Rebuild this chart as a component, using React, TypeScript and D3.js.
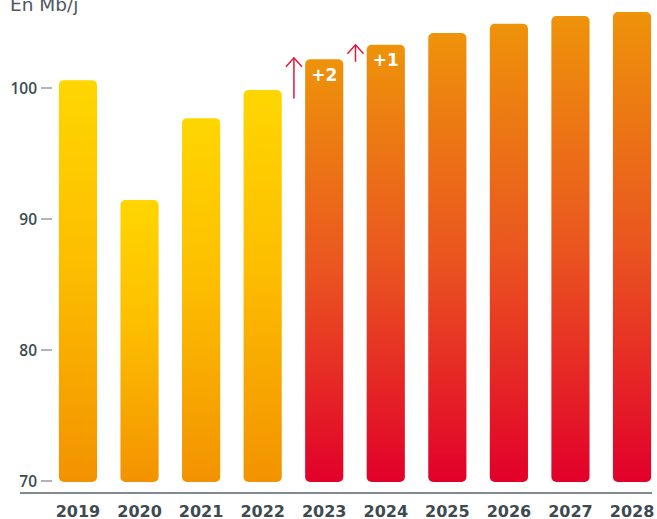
import React from "react";
import * as d3 from "d3";

const years = ["2019", "2020", "2021", "2022", "2023", "2024", "2025", "2026", "2027", "2028"];
const values = [100.6, 91.45, 97.7, 99.85, 102.2, 103.3, 104.2, 104.9, 105.5, 105.8];
const forecast = [false, false, false, false, true, true, true, true, true, true];
const yTicks = [70, 80, 90, 100];
const unitLabel = "En Mb/j";
const deltaYears = ["2023", "2024"];
const deltaLabels = ["+2", "+1"];
const arrowFrom = [99.2, 102.0];
const arrowTo = [102.3, 103.3];

const W = 657;
const H = 519;

export default function App() {
  const x = d3
    .scaleBand<string>()
    .domain(years)
    .range([47.2, 662.8])
    .paddingInner(0.38)
    .paddingOuter(0.19);
  const y = d3.scaleLinear().domain([70, 100]).range([481, 88]);
  const bw = x.bandwidth();
  const textColor = "#3d4b50";
  const font = "'DejaVu Sans', sans-serif";

  return (
    <svg
      width={W}
      height={H}
      style={{ position: "absolute", left: 0, top: 0, display: "block" }}
      fontFamily={font}
    >
      <defs>
        <linearGradient id="gHist" x1="0" y1="0" x2="0" y2="1">
          <stop offset="0%" stopColor="#FFD600" />
          <stop offset="45%" stopColor="#FDBE00" />
          <stop offset="100%" stopColor="#F39200" />
        </linearGradient>
        <linearGradient id="gFc" x1="0" y1="0" x2="0" y2="1">
          <stop offset="0%" stopColor="#EE930A" />
          <stop offset="50%" stopColor="#EA5520" />
          <stop offset="100%" stopColor="#E2002A" />
        </linearGradient>
      </defs>

      <text x={10} y={11} fontSize={18.5} fill="#4d585c">
        {unitLabel}
      </text>

      {yTicks.map((t) => (
        <g key={t}>
          <text
            x={37}
            y={y(t)}
            dy="0.36em"
            textAnchor="end"
            fontSize={15.5}
            fontWeight={600}
            fontFamily="'Open Sans', sans-serif"
            fill={textColor}
          >
            {t}
          </text>
          <line x1={41} x2={52} y1={y(t)} y2={y(t)} stroke="#7d878a" strokeWidth={1.2} />
        </g>
      ))}

      {years.map((yr, i) => {
        const x0 = x(yr)!;
        const top = y(values[i]);
        const bottom = y(70) + 1;
        return (
          <rect
            key={yr}
            x={x0}
            y={top}
            width={bw}
            height={bottom - top}
            rx={5}
            ry={5}
            fill={forecast[i] ? "url(#gFc)" : "url(#gHist)"}
          />
        );
      })}

      <line x1={20} x2={652} y1={493} y2={493} stroke="#56636a" strokeWidth={1.3} />

      {years.map((yr) => (
        <text
          key={yr}
          x={x(yr)! + bw / 2}
          y={516.5}
          textAnchor="middle"
          fontSize={16}
          fontWeight={700}
          fill={textColor}
        >
          {yr}
        </text>
      ))}

      {deltaYears.map((yr, i) => {
        const cx = x(yr)! + bw / 2;
        const top = y(values[years.indexOf(yr)]);
        const ax = x(yr)! - (x.step() - bw) / 2 + 0.5;
        const y1 = y(arrowFrom[i]);
        const y2 = y(arrowTo[i]);
        return (
          <g key={yr}>
            <text
              x={cx}
              y={top + 21.5}
              textAnchor="middle"
              fontSize={17}
              fontWeight={700}
              fill="#ffffff"
            >
              {deltaLabels[i]}
            </text>
            <line x1={ax} x2={ax} y1={y1} y2={y2} stroke="#E4163A" strokeWidth={1.5} />
            <polyline
              points={`${ax - 8},${y2 + 9} ${ax},${y2} ${ax + 8},${y2 + 9}`}
              fill="none"
              stroke="#E4163A"
              strokeWidth={1.5}
            />
          </g>
        );
      })}
    </svg>
  );
}
